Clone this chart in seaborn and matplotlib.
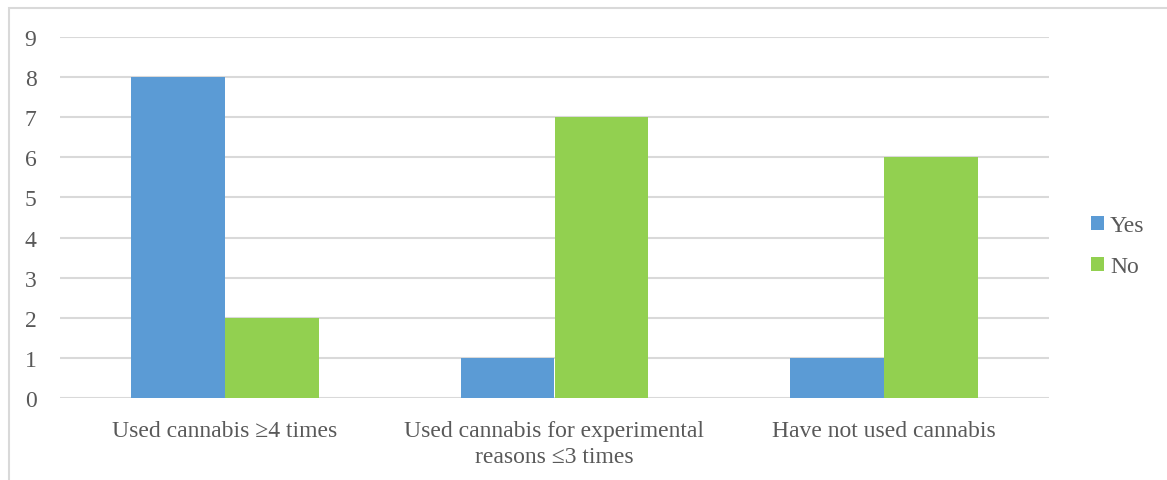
import matplotlib
matplotlib.use("Agg")
import matplotlib.pyplot as plt
import seaborn as sns
import pandas as pd
from matplotlib.patches import Rectangle

categories = ["Used cannabis \u22654 times",
              "Used cannabis for experimental\nreasons \u22643 times",
              "Have not used cannabis"]
series_names = ["Yes", "No"]
yes_values = [8, 1, 1]
no_values = [2, 7, 6]
y_ticks = list(range(0, 10))

df = pd.DataFrame({
    "category": categories * 2,
    "answer": ["Yes"] * 3 + ["No"] * 3,
    "value": yes_values + no_values,
})

sns.set_theme(style="white")
plt.rcParams["font.family"] = ["Liberation Serif", "DejaVu Serif"]

W, H = 1167, 481
fig = plt.figure(figsize=(W / 100, H / 100), dpi=100)
ax = fig.add_axes([60 / W, 1 - 399 / H, (1049 - 60) / W, (399 - 38) / H])

sns.barplot(data=df, x="category", y="value", hue="answer",
            hue_order=series_names, order=categories,
            palette={"Yes": "#5B9BD5", "No": "#92D050"},
            width=0.57, saturation=1, linewidth=0, ax=ax, legend=True)

ax.set_ylim(0, 9)
ax.set_xlim(-0.5, 2.5)
ax.set_yticks(y_ticks)
ax.set_xlabel("")
ax.set_ylabel("")
ax.yaxis.grid(True, color="#D9D9D9", linewidth=1.5)
ax.set_axisbelow(True)
for s in ax.spines.values():
    s.set_visible(False)
ax.tick_params(axis="both", length=0, labelsize=17, labelcolor="#595959")
ax.tick_params(axis="x", pad=16)
ax.tick_params(axis="y", pad=17)
for lbl in ax.get_xticklabels():
    lbl.set_linespacing(1.3)

leg = ax.get_legend()
handles = leg.legend_handles
leg.remove()
fig.legend(handles, series_names, loc="center left",
           bbox_to_anchor=(1070 / W, 1 - 247 / H), frameon=False,
           fontsize=17, labelcolor="#595959",
           handlelength=0.55, handleheight=0.55, handletextpad=0.25,
           labelspacing=0.85)

fig.patches.append(Rectangle((9 / W, -0.05), 1.2, 1 - 8.5 / H + 0.05,
                             transform=fig.transFigure, fill=False,
                             edgecolor="#D9D9D9", linewidth=1.5))

fig.savefig("out.png", dpi=100, facecolor="white")
